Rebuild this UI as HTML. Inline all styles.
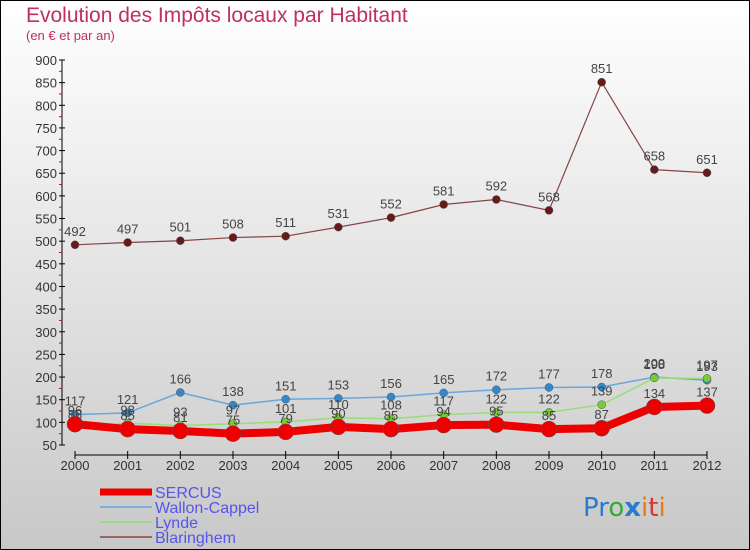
<!DOCTYPE html>
<html><head><meta charset="utf-8"><style>
body{margin:0}
svg{display:block;font-family:"Liberation Sans Narrow","Liberation Sans",sans-serif}
</style></head><body>
<svg id="c" width="750" height="550" viewBox="0 0 750 550">
<defs><linearGradient id="bg" x1="0" y1="0" x2="0" y2="1"><stop offset="0" stop-color="#ffffff"/><stop offset="1" stop-color="#c8c8c8"/></linearGradient></defs>
<rect x="0.5" y="0.5" width="749" height="549" fill="url(#bg)" stroke="#000"/>
<text x="26" y="22" font-size="21" fill="#c0305c">Evolution des Impôts locaux par Habitant</text>
<text x="26" y="40" font-size="13" fill="#c0305c">(en € et par an)</text>
<g id="axes"></g><g id="series"></g>
<g>
<line x1="100" y1="492" x2="152" y2="492" stroke="#ee0000" stroke-width="7"/>
<line x1="100" y1="507" x2="152" y2="507" stroke="#7aaee0" stroke-width="2"/>
<line x1="100" y1="522" x2="152" y2="522" stroke="#99dd88" stroke-width="2"/>
<line x1="100" y1="537" x2="152" y2="537" stroke="#996666" stroke-width="2"/>
<text x="155" y="498" font-size="16" fill="#5555ee">SERCUS</text>
<text x="155" y="513" font-size="16" fill="#5555ee">Wallon-Cappel</text>
<text x="155" y="528" font-size="16" fill="#5555ee">Lynde</text>
<text x="155" y="543" font-size="16" fill="#5555ee">Blaringhem</text>
</g>
<text x="583" y="516" font-size="26" font-family="DejaVu Sans, sans-serif"><tspan fill="#2a7ad0">Pr</tspan><tspan fill="#33aa33">o</tspan><tspan fill="#2a7ad0" font-weight="bold">x</tspan><tspan fill="#ee7711">i</tspan><tspan fill="#dd3333">t</tspan><tspan fill="#ee7711">i</tspan></text>
</svg>
<script>
const years=[2000,2001,2002,2003,2004,2005,2006,2007,2008,2009,2010,2011,2012];
const yTicks=[50,100,150,200,250,300,350,400,450,500,550,600,650,700,750,800,850,900];
const sercus=[96,85,81,75,79,90,85,94,95,85,87,134,137];
const wallon=[117,121,166,138,151,153,156,165,172,177,178,200,193];
const lynde=[88,98,93,97,101,110,108,117,122,122,139,198,197];
const blaringhem=[492,497,501,508,511,531,552,581,592,568,851,658,651];
const NS="http://www.w3.org/2000/svg";
const X=i=>75+i*(707-75)/(years.length-1);
const Y=v=>445-(v-50)*(385/850);
function mk(t,a,p){const e=document.createElementNS(NS,t);for(const k in a)e.setAttribute(k,a[k]);p.appendChild(e);return e;}
const ax=document.getElementById('axes');
let e=mk('line',{x1:62,y1:Y(900),x2:62,y2:Y(50),stroke:'#000'},ax);


e=mk('line',{x1:75,y1:455,x2:707,y2:455,stroke:'#000'},ax);


yTicks.forEach(v=>{
 mk('line',{x1:59,y1:Y(v),x2:65,y2:Y(v),stroke:'#000'},ax);
 if(v<900) mk('line',{x1:59,y1:Y(v+25),x2:62,y2:Y(v+25),stroke:'#e00'},ax);
 const t=mk('text',{x:57,y:Y(v)+5,'font-size':13,'text-anchor':'end',fill:'#333'},ax);t.textContent=v;
 
 
});
years.forEach((yr,i)=>{
 mk('line',{x1:X(i),y1:451,x2:X(i),y2:459,stroke:'#000'},ax);
 const t=mk('text',{x:X(i),y:470,'font-size':13,'text-anchor':'middle',fill:'#333'},ax);t.textContent=yr;
 
 
});
const sg=document.getElementById('series');
function draw(vals,name,color,w,r,dot){
 const g=mk('g',{},sg);
 
 
 mk('polyline',{points:vals.map((v,i)=>X(i)+','+Y(v)).join(' '),fill:'none',stroke:color,'stroke-width':w,'stroke-linejoin':'round'},g);
 vals.forEach((v,i)=>{
  const c=mk('circle',{cx:X(i),cy:Y(v),r:r,fill:dot,stroke:'#555','stroke-width':0.5},g);
  
  
  const t=mk('text',{x:X(i),y:Y(v)-9,'font-size':13,'text-anchor':'middle',fill:'#444'},g);t.textContent=v;
  
  
 });
}
draw(blaringhem,'blaringhem','#884444',1.2,4,'#661a1a');
draw(wallon,'wallon-cappel','#6aa6dc',1.5,4,'#3388cc');
draw(lynde,'lynde','#99dd77',1.5,4,'#77cc33');
draw(sercus,'sercus','#ee0000',8,8,'#ee0000');
</script>
</body></html>
